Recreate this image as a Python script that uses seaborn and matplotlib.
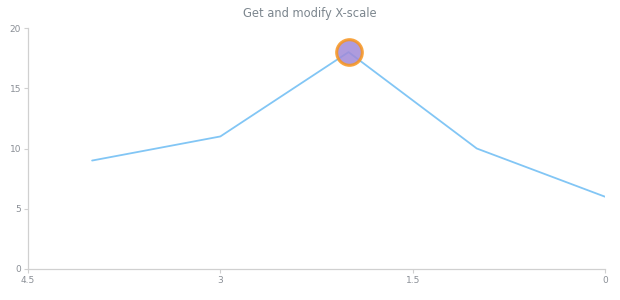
import matplotlib
matplotlib.use("Agg")
import matplotlib.pyplot as plt
import seaborn as sns
import pandas as pd

# Series values
x_values = [4, 3, 2, 1, 0]
y_values = [9, 11, 18, 10, 6]
x_ticks = [4.5, 3, 1.5, 0]
x_tick_labels = ["4.5", "3", "1.5", "0"]
y_ticks = [0, 5, 10, 15, 20]
title = "Get and modify X-scale"

df = pd.DataFrame({"x": x_values, "y": y_values})
peak = df.loc[[df["y"].idxmax()]]

sns.set_theme(style="white")
plt.rcParams["font.family"] = ["DejaVu Sans"]

fig = plt.figure(figsize=(6.2, 3.0), dpi=100)
ax = fig.add_axes([28 / 620, 1 - 269 / 300, (605 - 28) / 620, (269 - 28) / 300])

sns.lineplot(data=df, x="x", y="y", ax=ax, color="#82c6f5", linewidth=1.3,
             sort=False, estimator=None)
sns.scatterplot(data=peak, x="x", y="y", ax=ax, s=340, color="#a08ad8",
                alpha=0.85, edgecolor="#f7941d", linewidth=2.2, zorder=5)

ax.set_xlim(4.5, 0)
ax.set_ylim(0, 20)
ax.set_xticks(x_ticks)
ax.set_xticklabels(x_tick_labels)
ax.set_yticks(y_ticks)
ax.set_xlabel("")
ax.set_ylabel("")

for side in ["top", "right"]:
    ax.spines[side].set_visible(False)
for side in ["left", "bottom"]:
    ax.spines[side].set_color("#d0d0d0")
    ax.spines[side].set_linewidth(0.9)

ax.tick_params(axis="both", which="major", length=3, width=0.8, color="#d0d0d0",
               labelcolor="#8a8f96", labelsize=6.5, pad=2, direction="out")
ax.tick_params(axis="x", bottom=True)
ax.tick_params(axis="y", left=True)

fig.text(0.5, 1 - 14 / 300, title, ha="center", va="center",
         fontsize=8.3, color="#7c868e")

fig.savefig("out.png", dpi=100, facecolor="white")
